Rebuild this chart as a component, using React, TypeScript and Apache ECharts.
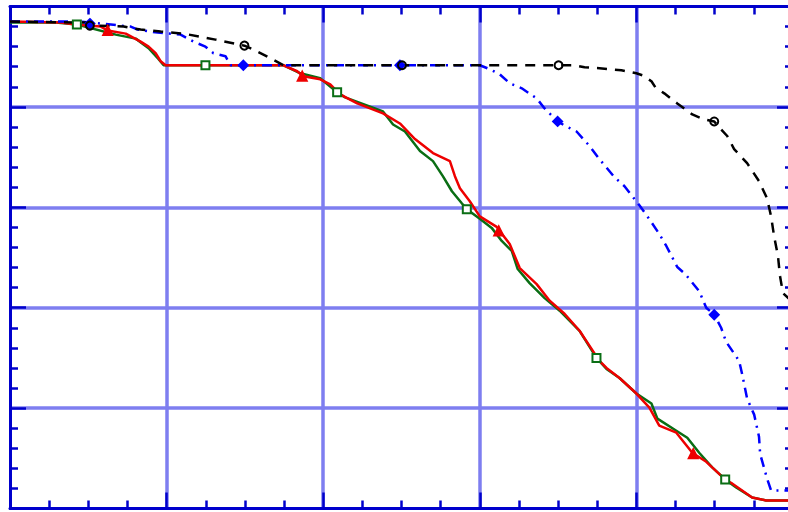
import React, { useEffect, useRef } from "react";
import * as echarts from "echarts";

// Curve data (x: 0..5, y: survival fraction 0..1)
const blackLine: [number, number][] = [
  [0, 0.97], [0.484, 0.968], [0.548, 0.962], [0.726, 0.96], [0.834, 0.954], [0.962, 0.95],
  [1.108, 0.946], [1.312, 0.934], [1.497, 0.922], [1.548, 0.915], [1.65, 0.899], [1.745, 0.883],
  [3.605, 0.883], [3.669, 0.879], [3.764, 0.877], [3.904, 0.873], [4.0, 0.867], [4.038, 0.863],
  [4.096, 0.851], [4.121, 0.839], [4.178, 0.827], [4.261, 0.807], [4.357, 0.785], [4.433, 0.775],
  [4.497, 0.771], [4.541, 0.755], [4.58, 0.742], [4.624, 0.716], [4.707, 0.688], [4.783, 0.652],
  [4.834, 0.618], [4.86, 0.582], [4.879, 0.543], [4.904, 0.503], [4.917, 0.463], [4.936, 0.429],
  [4.981, 0.416],
];
const blackMarks: [number, number][] = [
  [0.51, 0.962], [1.497, 0.922], [2.503, 0.883], [3.503, 0.883], [4.497, 0.771],
];

const blueLine: [number, number][] = [
  [0, 0.97], [0.452, 0.97], [0.771, 0.96], [0.815, 0.954], [0.943, 0.948], [1.089, 0.944],
  [1.172, 0.93], [1.248, 0.92], [1.299, 0.907], [1.376, 0.901], [1.408, 0.883], [3.0, 0.883],
  [3.064, 0.875], [3.127, 0.865], [3.191, 0.847], [3.268, 0.837], [3.363, 0.817], [3.414, 0.797],
  [3.497, 0.771], [3.541, 0.763], [3.618, 0.751], [3.701, 0.722], [3.764, 0.696], [3.86, 0.66],
  [3.924, 0.642], [4.019, 0.604], [4.07, 0.582], [4.146, 0.547], [4.191, 0.523], [4.261, 0.481],
  [4.312, 0.467], [4.401, 0.433], [4.446, 0.4], [4.497, 0.386], [4.541, 0.36], [4.573, 0.332],
  [4.656, 0.294], [4.675, 0.268], [4.707, 0.219], [4.752, 0.187], [4.783, 0.143], [4.79, 0.109],
  [4.834, 0.06], [4.86, 0.036], [5.0, 0.036],
];
const blueMarks: [number, number][] = [
  [0.51, 0.966], [1.49, 0.883], [2.49, 0.883], [3.497, 0.771], [4.497, 0.386],
];

const redLine: [number, number][] = [
  [0, 0.97], [0.325, 0.968], [0.42, 0.964], [0.58, 0.96], [0.624, 0.952], [0.739, 0.946],
  [0.834, 0.93], [0.885, 0.92], [0.93, 0.907], [0.962, 0.891], [0.994, 0.883], [1.745, 0.883],
  [1.834, 0.871], [1.873, 0.861], [1.981, 0.855], [2.045, 0.845], [2.108, 0.825], [2.217, 0.807],
  [2.382, 0.787], [2.49, 0.767], [2.586, 0.736], [2.701, 0.708], [2.809, 0.692], [2.841, 0.662],
  [2.873, 0.638], [2.936, 0.612], [3.0, 0.582], [3.108, 0.561], [3.127, 0.553], [3.191, 0.527],
  [3.255, 0.479], [3.363, 0.447], [3.446, 0.414], [3.541, 0.388], [3.637, 0.354], [3.701, 0.324],
  [3.764, 0.294], [3.809, 0.28], [3.892, 0.26], [4.0, 0.229], [4.083, 0.201], [4.146, 0.165],
  [4.255, 0.151], [4.357, 0.111], [4.446, 0.093], [4.573, 0.056], [4.611, 0.05], [4.739, 0.022],
  [4.828, 0.016], [5.0, 0.016],
];
const redMarks: [number, number][] = [
  [0.624, 0.952], [1.866, 0.861], [3.121, 0.553], [4.363, 0.109],
];

const greenLine: [number, number][] = [
  [0, 0.968], [0.293, 0.968], [0.427, 0.964], [0.675, 0.944], [0.803, 0.936], [0.885, 0.917],
  [0.949, 0.895], [0.981, 0.883], [1.745, 0.883], [1.854, 0.867], [1.981, 0.857], [2.089, 0.829],
  [2.14, 0.819], [2.382, 0.791], [2.446, 0.765], [2.522, 0.751], [2.618, 0.712], [2.701, 0.692],
  [2.764, 0.662], [2.822, 0.632], [2.885, 0.608], [2.917, 0.596], [3.0, 0.577], [3.076, 0.559],
  [3.14, 0.533], [3.204, 0.513], [3.242, 0.477], [3.318, 0.449], [3.414, 0.419], [3.51, 0.394],
  [3.637, 0.354], [3.745, 0.3], [3.809, 0.278], [3.892, 0.26], [4.0, 0.229], [4.096, 0.209],
  [4.134, 0.179], [4.255, 0.155], [4.325, 0.141], [4.401, 0.111], [4.484, 0.082], [4.567, 0.058],
  [4.637, 0.042], [4.739, 0.022], [4.828, 0.016], [5.0, 0.016],
];
const greenMarks: [number, number][] = [
  [0.427, 0.964], [1.248, 0.883], [2.089, 0.829], [2.917, 0.596], [3.745, 0.3], [4.567, 0.058],
];

const AXIS = "#0000cc";
const GRIDC = "#7e7ef0";

function axisBase(max: number, interval: number, minorSplit: number, grid: boolean, position: string) {
  return {
    type: "value",
    min: 0,
    max,
    interval,
    position,
    axisLabel: { show: false },
    axisLine: { show: true, onZero: false, lineStyle: { color: AXIS, width: 3 } },
    axisTick: { show: true, inside: true, length: 16, lineStyle: { color: AXIS, width: 2.5 } },
    minorTick: { show: true, splitNumber: minorSplit, length: 8, lineStyle: { color: AXIS, width: 2.5 } },
    splitLine: grid
      ? { show: true, showMinLine: false, showMaxLine: false, lineStyle: { color: GRIDC, width: 3.5, type: "solid" } }
      : { show: false },
  };
}

export default function App() {
  const ref = useRef<HTMLDivElement>(null);
  useEffect(() => {
    document.body.style.margin = "0";
    const chart = echarts.init(ref.current!, null, { renderer: "svg" });
    const line = (data: [number, number][], color: string, type: any, z: number) => ({
      type: "line",
      data,
      showSymbol: false,
      z,
      lineStyle: { color, width: 2.5, type },
      silent: true,
    });
    const marks = (data: [number, number][], symbol: string, size: number, fill: string, border: string, z: number) => ({
      type: "scatter",
      data,
      symbol,
      symbolSize: size,
      z,
      itemStyle: { color: fill, borderColor: border, borderWidth: 2, opacity: 1 },
      silent: true,
    });
    chart.setOption({
      animation: false,
      backgroundColor: "#ffffff",
      grid: { left: 10, top: 6.5, width: 783, height: 502, containLabel: false, outerBoundsMode: "none" },
      xAxis: [axisBase(5, 1, 4, true, "bottom"), axisBase(5, 1, 4, false, "top")],
      yAxis: [axisBase(1, 0.2, 5, true, "left"), axisBase(1, 0.2, 5, false, "right")],
      series: [
        line(greenLine, "#0a6e14", "solid", 2),
        line(redLine, "#ee0000", "solid", 3),
        line(blueLine, "#0000ff", [10, 6, 2, 6], 4),
        line(blackLine, "#000000", [10, 8], 5),
        marks(greenMarks, "rect", 8, "#ffffff", "#0a6e14", 6),
        marks(redMarks, "triangle", 9, "#ee0000", "#ee0000", 6),
        marks(blueMarks, "diamond", 9, "#0000ff", "#0000ff", 6),
        marks(blackMarks, "circle", 8, "rgba(255,255,255,0)", "#000000", 7),
      ],
    });
    return () => chart.dispose();
  }, []);
  return <div ref={ref} style={{ position: "fixed", left: 0, top: 0, width: 788, height: 512 }} />;
}
